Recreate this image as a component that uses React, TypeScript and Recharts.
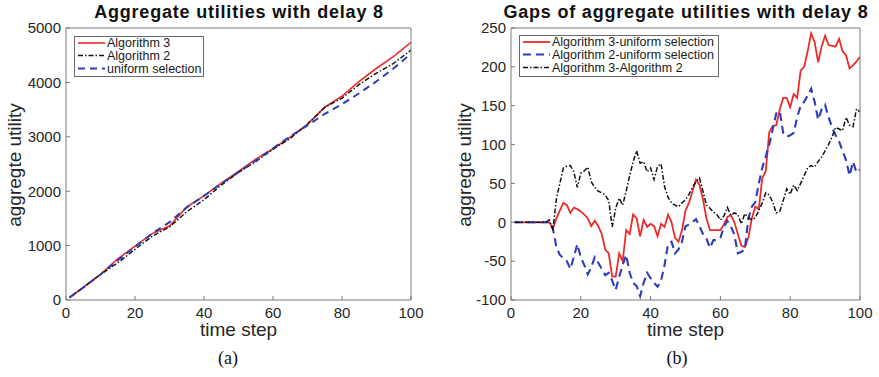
import React from 'react';
import { LineChart, Line, XAxis, YAxis, Legend } from 'recharts';

// ---------- data ----------
const cumSteps = [1, 5, 10, 15, 20, 25, 30, 35, 40, 45, 50, 55, 60, 65, 70, 75, 80, 85, 90, 95, 100];
const cumAlg3 = [45, 230, 470, 755, 989, 1220, 1360, 1710, 1913, 2150, 2365, 2590, 2780, 2995, 3230, 3544, 3748, 4020, 4260, 4480, 4738];
const cumAlg2 = [45, 230, 470, 684, 930, 1173, 1343, 1622, 1843, 2112, 2345, 2545, 2770, 2970, 3236, 3540, 3712, 3963, 4171, 4352, 4593];
const cumUniform = [45, 230, 470, 730, 975, 1225, 1430, 1700, 1915, 2140, 2350, 2560, 2790, 3010, 3210, 3420, 3600, 3800, 4020, 4260, 4525];

const gapSteps = [
  1, 2, 3, 4, 5, 6, 7, 8, 9, 10, 11, 12, 13, 14, 15, 16, 17, 18, 19, 20,
  21, 22, 23, 24, 25, 26, 27, 28, 29, 30, 31, 32, 33, 34, 35, 36, 37, 38, 39, 40,
  41, 42, 43, 44, 45, 46, 47, 48, 49, 50, 51, 52, 53, 54, 55, 56, 57, 58, 59, 60,
  61, 62, 63, 64, 65, 66, 67, 68, 69, 70, 71, 72, 73, 74, 75, 76, 77, 78, 79, 80,
  81, 82, 83, 84, 85, 86, 87, 88, 89, 90, 91, 92, 93, 94, 95, 96, 97, 98, 99, 100,
];
const gapA3U = [
  0, 0, 0, 0, 0, 0, 0, 0, 0, 0, 0, -8, 5, 15, 25, 22, 12, 19, 17, 14,
  10, 5, -5, 2, -5, -15, -35, -40, -70, -70, -40, -50, -10, -15, 10, 5, -18, 3, -6, -2,
  -5, -18, -2, -6, 10, 0, -20, -25, -10, 15, 25, 40, 55, 48, 30, 5, -10, -10, -10, -10,
  -3, 7, 9, 0, -15, -30, -32, -20, 5, 20, 17, 57, 66, 116, 124, 125, 145, 160, 160, 148,
  165, 160, 195, 200, 220, 243, 232, 206, 226, 240, 228, 227, 226, 236, 220, 215, 198, 202, 207, 213,
];
const gapA2U = [
  0, 0, 0, 0, 0, 0, 0, 0, 0, 0, 0, -8, -32, -42, -46, -50, -60, -45, -28, -45,
  -55, -67, -58, -45, -52, -60, -68, -65, -75, -87, -70, -55, -42, -65, -78, -82, -95, -78, -65, -72,
  -78, -83, -75, -55, -28, -25, -40, -35, -25, -5, -3, 0, 4, -5, -15, -21, -33, -23, -23, -20,
  -6, 2, -5, -16, -40, -38, -35, 5, 20, 26, 50, 70, 85, 100, 120, 140, 143, 115, 110, 112,
  115, 135, 150, 155, 163, 172, 155, 132, 145, 151, 135, 122, 112, 104, 92, 80, 60, 78, 64, 68,
];
const gapA3A2 = [
  0, 0, 0, 0, 0, 0, 0, 0, 0, 0, 3, -10, 30, 50, 70, 72, 73, 65, 45, 63,
  66, 71, 52, 45, 40, 38, 35, 28, -6, 18, 31, 22, 40, 60, 78, 92, 76, 78, 65, 70,
  55, 72, 75, 46, 32, 25, 22, 20, 25, 29, 36, 45, 52, 57, 40, 22, 18, 13, 10, 3,
  8, 19, 9, 12, 10, -2, 11, 6, 3, 6, 15, 25, 38, 35, 26, 12, 14, 28, 43, 36,
  48, 41, 50, 60, 70, 73, 71, 78, 84, 92, 100, 110, 122, 120, 118, 135, 125, 123, 146, 142,
];

const xTicks = [0, 20, 40, 60, 80, 100];
const leftYTicks = [0, 1000, 2000, 3000, 4000, 5000];
const rightYTicks = [-100, -50, 0, 50, 100, 150, 200, 250];

const leftTitle = 'Aggregate utilities with delay 8';
const rightTitle = 'Gaps of aggregate utilities with delay 8';
const xLabel = 'time step';
const yLabel = 'aggregte utility';

// ---------- styles ----------
const RED = '#ee2a2a';
const BLACK = '#111111';
const BLUE = '#2f3cb8';
const AXIS = '#7a7a7a';
const TEXT = '#262626';
const SANS = '"Liberation Sans", Arial, Helvetica, sans-serif';

type Item = { key: string; name: string; color: string; width: number; dash?: string };

const leftSeries: Item[] = [
  { key: 'alg3', name: 'Algorithm 3', color: RED, width: 1.6 },
  { key: 'alg2', name: 'Algorithm 2', color: BLACK, width: 1.4, dash: '5 2 1.5 2' },
  { key: 'uni', name: 'uniform selection', color: BLUE, width: 2, dash: '7 5' },
];
const rightSeries: Item[] = [
  { key: 'a3u', name: 'Algorithm 3-uniform selection', color: RED, width: 1.8 },
  { key: 'a2u', name: 'Algorithm 2-uniform selection', color: BLUE, width: 2.1, dash: '8 5' },
  { key: 'a3a2', name: 'Algorithm 3-Algorithm 2', color: BLACK, width: 1.5, dash: '5 2 1.5 2' },
];

const cumRows = cumSteps.map((t, i) => ({ t, alg3: cumAlg3[i], alg2: cumAlg2[i], uni: cumUniform[i] }));
const gapRows = gapSteps.map((t, i) => ({ t, a3u: gapA3U[i], a2u: gapA2U[i], a3a2: gapA3A2[i] }));

function LegendBox({ items, width, height, rows }: { items: Item[]; width: number; height: number; rows: number[] }) {
  return (
    <svg width={width} height={height} style={{ display: 'block' }}>
      <rect x={0.5} y={0.5} width={width - 1} height={height - 1} fill="#fff" stroke="#6a6a6a" strokeWidth={1} />
      {items.map((it, i) => (
        <g key={it.key}>
          <line x1={4} x2={31} y1={rows[i]} y2={rows[i]} stroke={it.color} strokeWidth={it.width} strokeDasharray={it.dash} />
          <text x={33} y={rows[i]} dominantBaseline="central" fontSize={12.5} fill="#1a1a1a" fontFamily={SANS}>
            {it.name}
          </text>
        </g>
      ))}
    </svg>
  );
}

const tickStyle = { fill: TEXT, fontSize: 15, fontFamily: SANS };

function Panel({
  data, series, yDomain, yTicks, yAxisW, plotW, rightM, legendPos,
}: {
  data: any[]; series: Item[]; yDomain: [number, number]; yTicks: number[]; yAxisW: number; plotW: number; rightM: number;
  legendPos: { left: number; top: number; width: number; height: number };
}) {
  const w = yAxisW + plotW + rightM;
  return (
    <LineChart width={w} height={377} data={data} margin={{ top: 27, right: rightM - 1, bottom: 0, left: 0 }}>
      <XAxis dataKey="t" type="number" domain={[0, 100]} ticks={xTicks} interval={0} height={77}
        stroke={AXIS} tickSize={-4} tickMargin={11} tick={tickStyle} allowDataOverflow />
      <XAxis xAxisId="top" orientation="top" dataKey="t" type="number" domain={[0, 100]} ticks={xTicks}
        interval={0} height={1} stroke={AXIS} tickSize={-4} tick={false} />
      <YAxis type="number" domain={yDomain} ticks={yTicks} interval={0} width={yAxisW}
        stroke={AXIS} tickSize={-4} tickMargin={9} tick={tickStyle} allowDataOverflow />
      <YAxis yAxisId="right" orientation="right" type="number" domain={yDomain} ticks={yTicks}
        interval={0} width={1} stroke={AXIS} tickSize={-4} tick={false} />
      <Legend layout="vertical" align="center" verticalAlign="middle"
        wrapperStyle={{ position: 'absolute', ...legendPos }}
        content={() => (
          <LegendBox items={series} width={legendPos.width} height={legendPos.height} rows={[7, 19.5, 32.5]} />
        )} />
      {series.map((s) => (
        <Line key={s.key} dataKey={s.key} name={s.name} type="linear" stroke={s.color} strokeWidth={s.width}
          strokeDasharray={s.dash} dot={false} activeDot={false} isAnimationActive={false} />
      ))}
    </LineChart>
  );
}

export default function App() {
  return (
    <div style={{ position: 'absolute', left: 0, top: 0, width: 879, height: 377, background: '#fff', overflow: 'hidden' }}>
      <div style={{ position: 'absolute', left: 0, top: 0 }}>
        <Panel data={cumRows} series={leftSeries} yDomain={[0, 5000]} yTicks={leftYTicks} yAxisW={66} plotW={345} rightM={29}
          legendPos={{ left: 74, top: 36, width: 130, height: 41 }} />
      </div>
      <div style={{ position: 'absolute', left: 440, top: 0 }}>
        <Panel data={gapRows} series={rightSeries} yDomain={[-100, 250]} yTicks={rightYTicks} yAxisW={71} plotW={349} rightM={19}
          legendPos={{ left: 79, top: 35, width: 200, height: 42 }} />
      </div>
      <svg width={879} height={377} style={{ position: 'absolute', left: 0, top: 0, pointerEvents: 'none' }}>
        <g fontFamily={SANS} fill="#111">
          <text x={239} y={18} textAnchor="middle" fontSize={18} fontWeight="bold" letterSpacing={0.8}>{leftTitle}</text>
          <text x={686} y={18} textAnchor="middle" fontSize={18} fontWeight="bold" letterSpacing={0.8}>{rightTitle}</text>
        </g>
        <g fontFamily={SANS} fill={TEXT} fontSize={19}>
          <text x={238.5} y={336} textAnchor="middle">{xLabel}</text>
          <text x={685.5} y={336} textAnchor="middle">{xLabel}</text>
          <text transform="translate(21,165) rotate(-90)" textAnchor="middle">{yLabel}</text>
          <text transform="translate(471,165) rotate(-90)" textAnchor="middle">{yLabel}</text>
        </g>
        <g fontFamily='"Liberation Serif", "DejaVu Serif", serif' fill="#111" fontSize={18}>
          <text x={228} y={364} textAnchor="middle">(a)</text>
          <text x={677} y={364} textAnchor="middle">(b)</text>
        </g>
      </svg>
    </div>
  );
}
